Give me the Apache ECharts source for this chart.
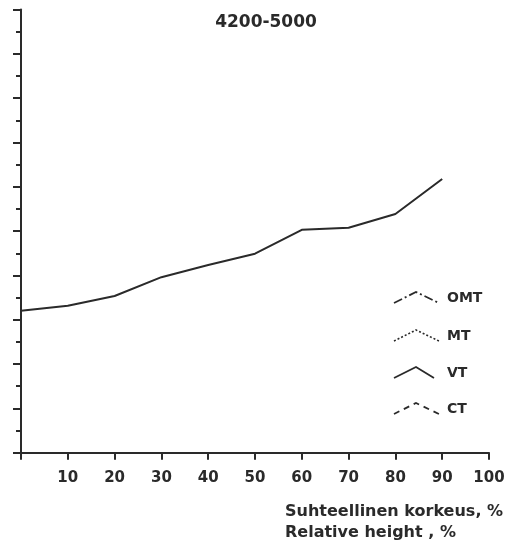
<!DOCTYPE html>
<html>
<head>
<meta charset="utf-8">
<script src="https://cdn.jsdelivr.net/npm/echarts@6/dist/echarts.min.js"></script>
<style>
  html, body { margin: 0; padding: 0; background: #fff; }
  #chart { width: 508px; height: 547px; }
</style>
</head>
<body>
<div id="chart"></div>
<script>
// Relative height (%) along the stem
const heights = [0, 10, 20, 30, 40, 50, 60, 70, 80, 90];
// VT site type, height class 4200-5000
const vtValues = [6.41, 6.63, 7.07, 7.92, 8.47, 8.98, 10.06, 10.15, 10.77, 12.35];
// Site types listed in the key
const siteTypes = ['OMT', 'MT', 'VT', 'CT'];
const siteDash = [[9, 3, 2, 3], [2, 2], null, [6, 5]];
const titleText = '4200-5000';
const axisNameLines = ['Suhteellinen korkeus, %', 'Relative height , %'];

const ink = '#2a2a2a';
const font = '"DejaVu Sans", sans-serif';

const chart = echarts.init(document.getElementById('chart'));

// Key: small chevron strokes with the series' line patterns
const keyRows = [299, 337, 374, 410];
const keyGraphics = [];
siteTypes.forEach((name, i) => {
  const y = keyRows[i];
  const rightEnd = name === 'VT' ? 434 : 439;
  keyGraphics.push({
    type: 'polyline',
    shape: { points: [[394, y + 4], [416, y - 7], [rightEnd, y + 4]] },
    style: { stroke: ink, lineWidth: name === 'MT' ? 1.6 : 1.8, fill: null, lineDash: siteDash[i] }
  });
  keyGraphics.push({
    type: 'text',
    left: 447,
    top: y - 8,
    style: { text: name, font: 'bold 14px ' + font, fill: ink }
  });
});

keyGraphics.push({
  type: 'text',
  left: 285,
  top: 501,
  style: { text: axisNameLines.join('\n'), font: 'bold 16px ' + font, fill: ink, lineHeight: 21 }
});

chart.setOption({
  backgroundColor: '#fff',
  animation: false,
  title: {
    text: titleText,
    left: 261,
    top: 9,
    textAlign: 'center',
    textStyle: { fontFamily: font, fontSize: 17, fontWeight: 'bold', color: ink }
  },
  grid: { left: 21, right: 19, top: 9.5, bottom: 94.3 },
  xAxis: {
    type: 'value',
    min: 0,
    max: 100,
    interval: 10,
    axisLine: { lineStyle: { color: ink, width: 2 } },
    axisTick: { show: true, length: 7, lineStyle: { color: ink, width: 2 } },
    axisLabel: {
      margin: 18,
      color: ink,
      fontFamily: font,
      fontSize: 15,
      fontWeight: 'bold',
      formatter: v => (v === 0 ? '' : String(v))
    },
    splitLine: { show: false }
  },
  yAxis: {
    type: 'value',
    min: 0,
    max: 20,
    interval: 2,
    axisLine: { show: true, lineStyle: { color: ink, width: 2 } },
    axisTick: { show: true, length: 8, lineStyle: { color: ink, width: 2 } },
    minorTick: { show: true, splitNumber: 2, length: 5, lineStyle: { color: ink, width: 2 } },
    axisLabel: { show: false },
    splitLine: { show: false }
  },
  graphic: keyGraphics,
  series: [
    {
      name: 'VT',
      type: 'line',
      data: heights.map((h, i) => [h, vtValues[i]]),
      showSymbol: false,
      lineStyle: { color: ink, width: 2 },
      itemStyle: { color: ink }
    }
  ]
});
</script>
</body>
</html>
